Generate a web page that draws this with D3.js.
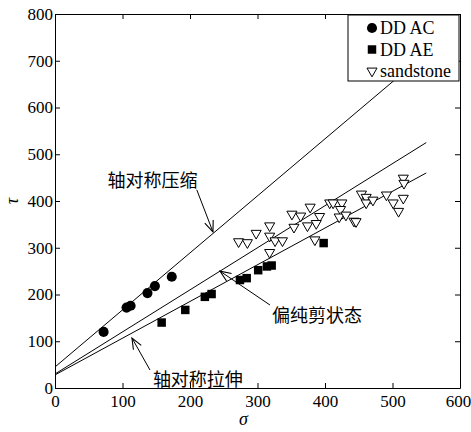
<!DOCTYPE html>
<html>
<head>
<meta charset="utf-8">
<script src="https://cdn.jsdelivr.net/npm/d3@7"></script>
<style>
  html, body { margin: 0; padding: 0; background: #fff; }
  svg { display: block; }
</style>
</head>
<body>
<svg id="chart" width="471" height="432"></svg>
<script>
// Fitted strength curves (σ, τ) for three stress states
const fitSigma = [0, 550];
const tauCompression = [45, 716];   // 轴对称压缩
const tauShear = [30, 525];         // 偏纯剪状态
const tauTension = [28, 460];       // 轴对称拉伸

// DD AC test points
const acSigma = [72, 106, 112, 137, 148, 173];
const acTau   = [120, 172, 176, 203, 218, 238];

// DD AE test points
const aeSigma = [158, 193, 222, 232, 274, 284, 301, 314, 321, 398];
const aeTau   = [140, 167, 195, 201, 231, 235, 252, 260, 262, 310];

// sandstone test points
const ssSigma = [272, 285, 298, 318, 318, 326, 337, 318, 351, 364, 378, 392, 387, 374, 354, 385,
                 407, 412, 425, 423, 421, 431, 443, 446, 454, 461, 461, 471, 491, 501, 509, 516, 516, 517];
const ssTau   = [313, 311, 331, 347, 325, 315, 315, 290, 372, 368, 387, 367, 352, 347, 344, 317,
                 396, 396, 396, 382, 366, 370, 357, 356, 415, 408, 396, 402, 413, 396, 378, 406, 449, 438];

const xTicks = [0, 100, 200, 300, 400, 500, 600];
const yTicks = [0, 100, 200, 300, 400, 500, 600, 700, 800];

const legendLabels = ["DD AC", "DD AE", "sandstone"];

// Annotations: label anchor, leader start and arrow tip in data units
const notes = [
  { text: "轴对称压缩", label: [77.8, 430], from: [210, 424], to: [234, 334] },
  { text: "偏纯剪状态", label: [321.5, 141], from: [318.5, 177.5], to: [244.4, 250] },
  { text: "轴对称拉伸", label: [145, 4.3], from: [140.7, 38.5], to: [114, 107] }
];

const SERIF = "'Liberation Serif', 'Times New Roman', serif";
const CJK = "'Noto Sans CJK SC', sans-serif";

const svg = d3.select("#chart");
const margin = { left: 55, top: 14, right: 11, bottom: 44 };
const W = 471, H = 432;
const x = d3.scaleLinear().domain([0, 600]).range([margin.left, W - margin.right]);
const y = d3.scaleLinear().domain([0, 800]).range([H - margin.bottom, margin.top]);

svg.append("defs").append("marker")
  .attr("id", "arrow")
  .attr("viewBox", "-12 -6 14 12")
  .attr("refX", 0).attr("refY", 0)
  .attr("markerWidth", 14).attr("markerHeight", 12)
  .attr("markerUnits", "userSpaceOnUse")
  .attr("orient", "auto")
  .append("path")
  .attr("d", "M-11,-4.5 L0,0 L-11,4.5")
  .attr("fill", "none").attr("stroke", "#000").attr("stroke-width", 1.1);

// Fitted lines
const line = d3.line().x(d => x(d[0])).y(d => y(d[1]));
[tauCompression, tauShear, tauTension].forEach(t => {
  svg.append("path")
    .datum(fitSigma.map((s, i) => [s, t[i]]))
    .attr("d", line)
    .attr("fill", "none").attr("stroke", "#000").attr("stroke-width", 1);
});

// Markers
const circleSym = d3.symbol().type(d3.symbolCircle).size(80);
const squareSym = d3.symbol().type(d3.symbolSquare).size(72);
const triSym = d3.symbol().type(d3.symbolTriangle).size(44);

svg.append("g").selectAll("path")
  .data(acSigma.map((s, i) => [s, acTau[i]]))
  .join("path")
  .attr("d", circleSym)
  .attr("transform", d => `translate(${x(d[0])},${y(d[1])})`)
  .attr("fill", "#000");

svg.append("g").selectAll("path")
  .data(aeSigma.map((s, i) => [s, aeTau[i]]))
  .join("path")
  .attr("d", squareSym)
  .attr("transform", d => `translate(${x(d[0])},${y(d[1])})`)
  .attr("fill", "#000");

svg.append("g").selectAll("path")
  .data(ssSigma.map((s, i) => [s, ssTau[i]]))
  .join("path")
  .attr("d", triSym)
  .attr("transform", d => `translate(${x(d[0])},${y(d[1])}) rotate(180)`)
  .attr("fill", "#fff").attr("stroke", "#000").attr("stroke-width", 1);

// Annotations
notes.forEach(n => {
  svg.append("line")
    .attr("x1", x(n.from[0])).attr("y1", y(n.from[1]))
    .attr("x2", x(n.to[0])).attr("y2", y(n.to[1]))
    .attr("stroke", "#000").attr("stroke-width", 1)
    .attr("marker-end", "url(#arrow)");
  svg.append("text")
    .attr("x", x(n.label[0])).attr("y", y(n.label[1]))
    .attr("font-family", CJK)
    .attr("font-size", 18)
    .attr("fill", "#000")
    .text(n.text);
});

// Axes with inward ticks on all four sides
const fmt = d3.format("d");
const styleAxis = g => g.attr("font-family", SERIF).attr("font-size", 17)
  .call(g => g.selectAll(".tick text").attr("fill", "#000"));
svg.append("g")
  .attr("transform", `translate(0,${y(0)})`)
  .call(d3.axisBottom(x).tickValues(xTicks).tickFormat(fmt).tickSizeInner(-5).tickSizeOuter(0).tickPadding(4))
  .call(styleAxis)
  .call(g => g.selectAll(".tick text").attr("dy", "0.9em")
    .attr("dx", d => d === 600 ? -2 : 0));
svg.append("g")
  .attr("transform", `translate(${x(0)},0)`)
  .call(d3.axisLeft(y).tickValues(yTicks).tickFormat(fmt).tickSizeInner(-5).tickSizeOuter(0).tickPadding(2))
  .call(styleAxis);
svg.append("g")
  .attr("transform", `translate(0,${y(800)})`)
  .call(d3.axisTop(x).tickValues(xTicks).tickFormat("").tickSizeInner(-5).tickSizeOuter(0));
svg.append("g")
  .attr("transform", `translate(${x(600)},0)`)
  .call(d3.axisRight(y).tickValues(yTicks).tickFormat("").tickSizeInner(-5).tickSizeOuter(0));
svg.selectAll(".domain, .tick line").attr("stroke", "#000").attr("stroke-width", 1);

// Axis titles
svg.append("text")
  .attr("x", (x(0) + x(600)) / 2 - 14).attr("y", 425)
  .attr("text-anchor", "middle")
  .attr("font-family", SERIF).attr("font-style", "italic").attr("font-size", 18)
  .text("σ");
svg.append("text")
  .attr("transform", `translate(18,${y(400)}) rotate(-90)`)
  .attr("text-anchor", "middle")
  .attr("font-family", SERIF).attr("font-style", "italic").attr("font-size", 18)
  .text("τ");

// Legend
const lg = svg.append("g");
const lx0 = 348, ly0 = y(800) + 1, lw = x(600) - 1 - lx0, lh = 66;
lg.append("rect")
  .attr("x", lx0).attr("y", ly0).attr("width", lw).attr("height", lh)
  .attr("fill", "#fff").attr("stroke", "#000").attr("stroke-width", 1);
const legendSyms = [
  { sym: circleSym, fill: "#000", stroke: "none", rot: 0 },
  { sym: squareSym, fill: "#000", stroke: "none", rot: 0 },
  { sym: triSym, fill: "#fff", stroke: "#000", rot: 180 }
];
legendLabels.forEach((lab, i) => {
  const cy = ly0 + 13 + i * 21.5;
  const s = legendSyms[i];
  lg.append("path")
    .attr("d", s.sym)
    .attr("transform", `translate(372,${cy}) rotate(${s.rot})`)
    .attr("fill", s.fill).attr("stroke", s.stroke).attr("stroke-width", 1);
  lg.append("text")
    .attr("x", 380).attr("y", cy + 6)
    .attr("font-family", SERIF).attr("font-size", 18)
    .attr("fill", "#000")
    .text(lab);
});
</script>
</body>
</html>
